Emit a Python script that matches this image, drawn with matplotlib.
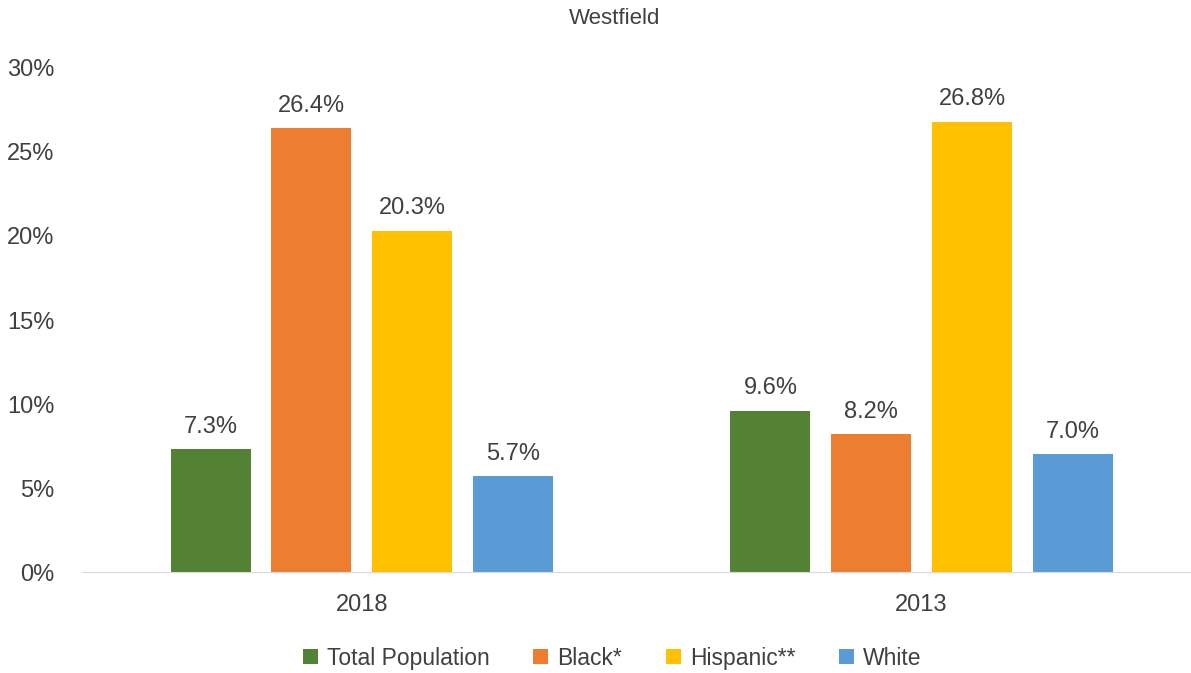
import numpy as np
import matplotlib
matplotlib.use("Agg")
import matplotlib.pyplot as plt
from matplotlib.ticker import FuncFormatter

# data
years = ["2018", "2013"]
series_names = ["Total Population", "Black*", "Hispanic**", "White"]
total_population = [7.3, 9.6]
black = [26.4, 8.2]
hispanic = [20.3, 26.8]
white = [5.7, 7.0]

COLORS = ["#548235", "#ED7D31", "#FFC000", "#5B9BD5"]
TEXT = "#404040"

plt.rcParams["font.family"] = ["Liberation Sans", "DejaVu Sans"]

fig = plt.figure(figsize=(11.91, 6.73), dpi=100)
ax = fig.add_axes([0.0688, 0.150, 0.940, 0.749])

x = np.arange(len(years))
width = 0.143
step = 0.180
all_series = [total_population, black, hispanic, white]

for i, (name, vals) in enumerate(zip(series_names, all_series)):
    pos = x + (i - 1.5) * step
    bars = ax.bar(pos, vals, width=width, color=COLORS[i], label=name)
    for b, v in zip(bars, vals):
        ax.text(b.get_x() + b.get_width() / 2, v + 0.7, f"{v:.1f}%",
                ha="center", va="bottom", fontsize=17, color=TEXT)

ax.set_xlim(-0.5, 1.5)
ax.set_ylim(0, 30)
ax.set_yticks(np.arange(0, 31, 5))
ax.yaxis.set_major_formatter(FuncFormatter(lambda v, _: f"{v:.0f}%"))
ax.set_xticks(x)
ax.set_xticklabels(years)
ax.tick_params(axis="both", length=0, labelsize=17, colors=TEXT)
ax.tick_params(axis="x", pad=16)
ax.tick_params(axis="y", pad=20)

for s in ["top", "right", "left"]:
    ax.spines[s].set_visible(False)
ax.spines["bottom"].set_color("#D9D9D9")

fig.text(0.516, 0.973, "Westfield", ha="center", va="center", fontsize=16, color=TEXT)

fig.legend(loc="center", bbox_to_anchor=(0.514, 0.022), ncol=4, frameon=False,
           fontsize=16.5, handlelength=0.65, handleheight=0.65, handletextpad=0.4,
           columnspacing=1.9, labelcolor=TEXT)

fig.savefig("out.png", dpi=100)
